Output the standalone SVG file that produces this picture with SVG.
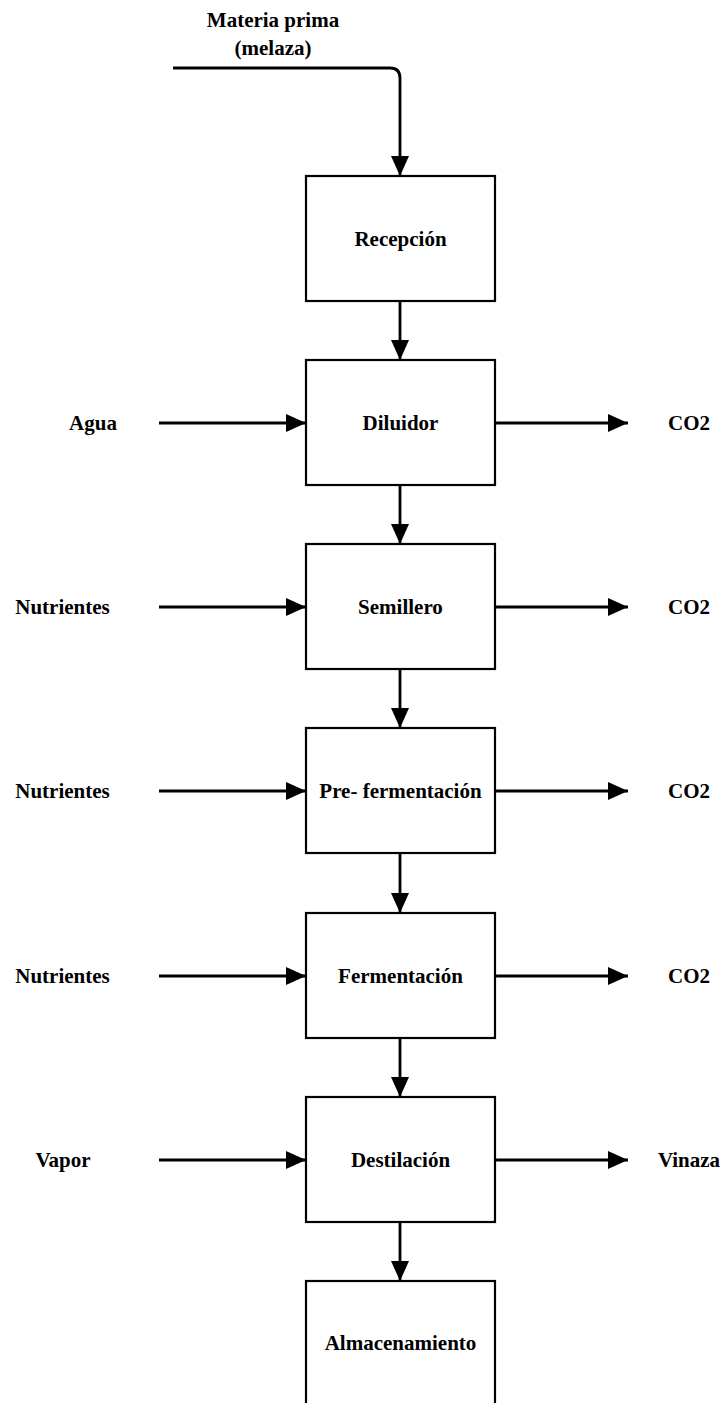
<svg xmlns="http://www.w3.org/2000/svg" width="726" height="1403" viewBox="0 0 726 1403">
  <style>
    .box { fill: #fff; stroke: #000; stroke-width: 2.2; }
    .lbl { font-family: "Liberation Serif", "Times New Roman", serif; font-weight: bold; font-size: 21px; fill: #000; text-anchor: middle; }
    .flow { fill: none; stroke: #000; stroke-width: 2.8; }
  </style>
  <defs>
    <marker id="arrow" markerWidth="20" markerHeight="18" refX="20" refY="9" orient="auto" markerUnits="userSpaceOnUse">
      <path d="M0,0 L20,9 L0,18 Z" fill="#000"/>
    </marker>
  </defs>

  <!-- feed label -->
  <text class="lbl" x="273" y="27">Materia prima</text>
  <text class="lbl" x="273" y="55">(melaza)</text>

  <!-- process steps -->
  <g id="recepcion">
    <rect class="box" x="306" y="176" width="189" height="125"/>
    <text class="lbl" x="400.5" y="246">Recepción</text>
  </g>
  <g id="diluidor">
    <rect class="box" x="306" y="360" width="189" height="125"/>
    <text class="lbl" x="400.5" y="430">Diluidor</text>
  </g>
  <g id="semillero">
    <rect class="box" x="306" y="544" width="189" height="125"/>
    <text class="lbl" x="400.5" y="614">Semillero</text>
  </g>
  <g id="prefermentacion">
    <rect class="box" x="306" y="728" width="189" height="125"/>
    <text class="lbl" x="400.5" y="798">Pre- fermentación</text>
  </g>
  <g id="fermentacion">
    <rect class="box" x="306" y="913" width="189" height="125"/>
    <text class="lbl" x="400.5" y="983">Fermentación</text>
  </g>
  <g id="destilacion">
    <rect class="box" x="306" y="1097" width="189" height="125"/>
    <text class="lbl" x="400.5" y="1167">Destilación</text>
  </g>
  <g id="almacenamiento">
    <rect class="box" x="306" y="1281" width="189" height="130"/>
    <text class="lbl" x="400.5" y="1350">Almacenamiento</text>
  </g>

  <!-- side inputs and outputs -->
  <g id="side-labels">
    <text class="lbl" x="93" y="430">Agua</text>
    <text class="lbl" x="62.5" y="614">Nutrientes</text>
    <text class="lbl" x="62.5" y="798">Nutrientes</text>
    <text class="lbl" x="62.5" y="983">Nutrientes</text>
    <text class="lbl" x="63" y="1167">Vapor</text>
    <text class="lbl" x="689" y="430">CO2</text>
    <text class="lbl" x="689" y="614">CO2</text>
    <text class="lbl" x="689" y="798">CO2</text>
    <text class="lbl" x="689" y="983">CO2</text>
    <text class="lbl" x="689" y="1167">Vinaza</text>
  </g>

  <!-- connectors -->
  <g id="connectors">
    <path class="flow" d="M173,68 H390 Q400,68 400,78 V176" marker-end="url(#arrow)"/>
    <path class="flow" d="M400,301 V360" marker-end="url(#arrow)"/>
    <path class="flow" d="M400,485 V544" marker-end="url(#arrow)"/>
    <path class="flow" d="M400,669 V728" marker-end="url(#arrow)"/>
    <path class="flow" d="M400,853 V913" marker-end="url(#arrow)"/>
    <path class="flow" d="M400,1038 V1097" marker-end="url(#arrow)"/>
    <path class="flow" d="M400,1222 V1281" marker-end="url(#arrow)"/>

    <path class="flow" d="M159,423 H306" marker-end="url(#arrow)"/>
    <path class="flow" d="M159,607 H306" marker-end="url(#arrow)"/>
    <path class="flow" d="M159,791 H306" marker-end="url(#arrow)"/>
    <path class="flow" d="M159,976 H306" marker-end="url(#arrow)"/>
    <path class="flow" d="M159,1160 H306" marker-end="url(#arrow)"/>

    <path class="flow" d="M495,423 H628" marker-end="url(#arrow)"/>
    <path class="flow" d="M495,607 H628" marker-end="url(#arrow)"/>
    <path class="flow" d="M495,791 H628" marker-end="url(#arrow)"/>
    <path class="flow" d="M495,976 H628" marker-end="url(#arrow)"/>
    <path class="flow" d="M495,1160 H628" marker-end="url(#arrow)"/>
  </g>
</svg>
